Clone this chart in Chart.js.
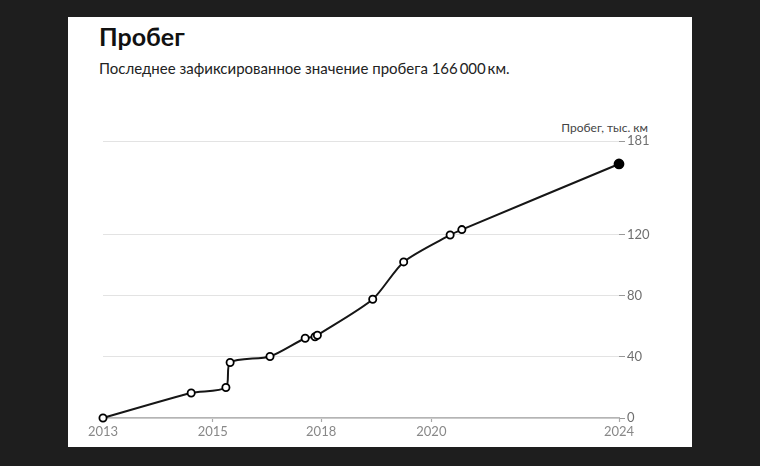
<!DOCTYPE html>
<html>
<head>
<meta charset="utf-8">
<script src="https://cdn.jsdelivr.net/npm/chart.js@4"></script>
<style>
  html, body { margin: 0; padding: 0; }
  body { width: 760px; height: 466px; background: #1e1e1e; position: relative; overflow: hidden; font-family: Lato, "Noto Sans", sans-serif; }
  .panel { position: absolute; left: 68px; top: 17px; width: 624px; height: 430px; background: #fff; }
  .title { position: absolute; left: 31px; top: 7px; font-size: 25px; line-height: 25px; font-weight: 700; color: #111; }
  .subtitle { position: absolute; left: 31px; top: 44px; font-size: 15px; line-height: 15px; color: #222; }
  .ytitle { position: absolute; right: 44px; top: 105px; font-size: 12px; line-height: 12px; color: #444; }
  #chart { position: absolute; left: 0; top: 83px; }
</style>
</head>
<body>
<div class="panel">
  <div class="title">Пробег</div>
  <div class="subtitle">Последнее зафиксированное значение пробега 166&#8201;000&#8201;км.</div>
  <div class="ytitle">Пробег, тыс. км</div>
  <canvas id="chart" width="624" height="346"></canvas>
</div>
<script>
// dates as decimal years, mileage in thousand km
const years = [2013.00, 2014.88, 2015.62, 2015.71, 2016.56, 2017.31, 2017.52, 2017.57, 2018.75, 2019.41, 2020.40, 2020.65, 2024.00];
const mileage = [0, 16.3, 19.9, 36.3, 40.2, 52.1, 53.1, 54.1, 77.6, 102, 119.6, 123.1, 166];

const xTickPos = [2013, 2015.34, 2017.65, 2020, 2024];
const xTickLabels = ['2013', '2015', '2018', '2020', '2024'];
const yTicks = [0, 40, 80, 120, 181];

const last = mileage.length - 1;

new Chart(document.getElementById('chart').getContext('2d'), {
  type: 'line',
  data: {
    datasets: [{
      data: years.map((y, i) => ({ x: y, y: mileage[i] })),
      borderColor: '#161616',
      borderWidth: 2,
      tension: 0.25,
      pointRadius: mileage.map((v, i) => i === last ? 4.5 : 3.6),
      pointBackgroundColor: mileage.map((v, i) => i === last ? '#000' : '#fff'),
      pointBorderColor: '#000',
      pointBorderWidth: 1.8,
      clip: false,
    }]
  },
  options: {
    responsive: false,
    animation: false,
    layout: { padding: { left: 35, top: 41, right: 33, bottom: 4 } },
    plugins: { legend: { display: false }, tooltip: { enabled: false } },
    scales: {
      x: {
        type: 'linear',
        min: 2013,
        max: 2024,
        afterBuildTicks: (axis) => { axis.ticks = xTickPos.map(v => ({ value: v })); },
        afterFit: (axis) => { axis.height = 24; },
        ticks: {
          autoSkip: false,
          maxRotation: 0,
          padding: 2,
          color: '#888',
          font: { family: 'Lato, "Noto Sans", sans-serif', size: 13 },
          callback: (v, i) => xTickLabels[i],
        },
        grid: { drawOnChartArea: false, tickLength: 4, tickColor: '#aaa', tickWidth: 1.2 },
        border: { display: true, color: '#b4b4b4', width: 1.5 },
      },
      y: {
        position: 'right',
        min: 0,
        max: 181,
        afterBuildTicks: (axis) => { axis.ticks = yTicks.map(v => ({ value: v })); },
        afterFit: (axis) => { axis.width = 40; },
        ticks: {
          autoSkip: false,
          padding: 2,
          color: '#6f6f6f',
          font: { family: 'Lato, "Noto Sans", sans-serif', size: 13 },
        },
        grid: { color: '#e3e3e3', lineWidth: 1, tickLength: 6, tickColor: '#999' },
        border: { display: false },
      }
    }
  }
});
</script>
</body>
</html>
